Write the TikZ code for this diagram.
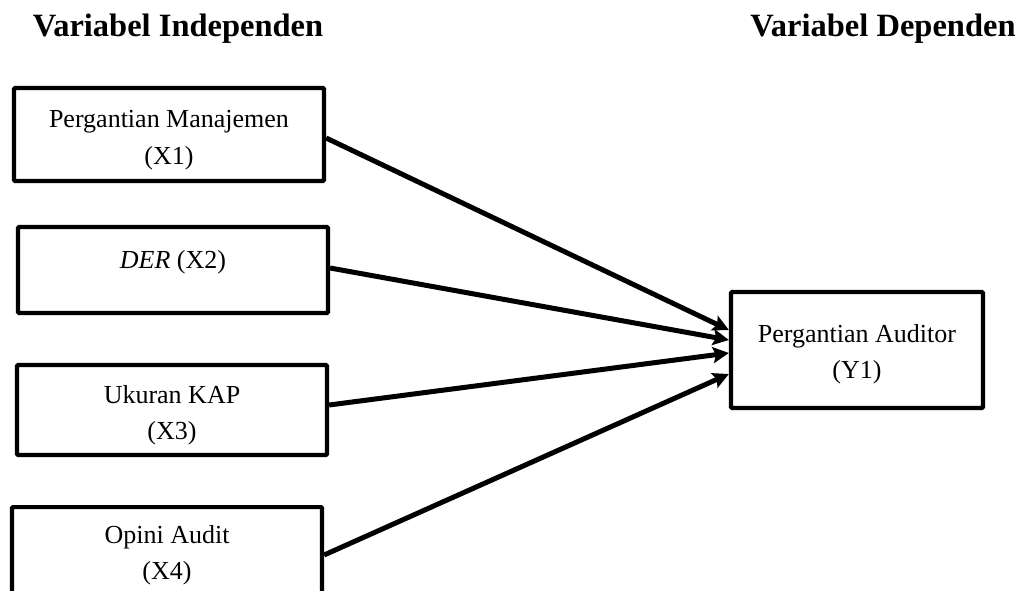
\documentclass[tikz,border=0pt]{standalone}
\usepackage{fontspec}
\setmainfont{Liberation Serif}
\usetikzlibrary{arrows.meta}
\begin{document}
\begin{tikzpicture}[x=1pt,y=-1pt,
  txt/.style={align=center,font=\fontsize{26}{36.5}\selectfont,inner sep=0pt},
  varbox/.style={draw=black,line width=4.2pt,rounded corners=1pt,inner sep=0pt},
  head/.style={font=\bfseries\fontsize{32.5}{38}\selectfont,inner sep=0pt},
  link/.style={line width=5pt,-{Stealth[length=16pt,width=16pt,inset=3pt]}}]
\useasboundingbox (0,0) rectangle (1018,590);
\node[head] (hi) at (178,29) {Variabel Independen};
\node[head] (hd) at (883,29) {Variabel Dependen};
\node[varbox,minimum width=310pt,minimum height=93pt] (x1) at (169,134.5) {};
\node[txt] (x1t) at (169,140) {Pergantian Manajemen\\(X1)};
\node[varbox,minimum width=310pt,minimum height=86pt] (x2) at (173,270) {};
\node[txt] (x2t) at (173,262) {\textit{DER} (X2)};
\node[varbox,minimum width=310pt,minimum height=90pt] (x3) at (172,410) {};
\node[txt] (x3t) at (172,415) {Ukuran KAP\\(X3)};
\node[varbox,minimum width=310pt,minimum height=110pt,anchor=north] (x4) at (167,505) {};
\node[txt] (x4t) at (167,555) {Opini Audit\\(X4)};
\node[varbox,minimum width=252pt,minimum height=116pt] (y1) at (857,350) {};
\node[txt] (y1t) at (857,354) {Pergantian Auditor\\(Y1)};
\draw[link] (x1.east |- 0,138) -- (y1.west |- 0,330);
\draw[link] (x2.east |- 0,268) -- (y1.west |- 0,340);
\draw[link] (x3.east |- 0,405) -- (y1.west |- 0,353);
\draw[link] (x4.east |- 0,555) -- (y1.west |- 0,374);
\end{tikzpicture}
\end{document}
